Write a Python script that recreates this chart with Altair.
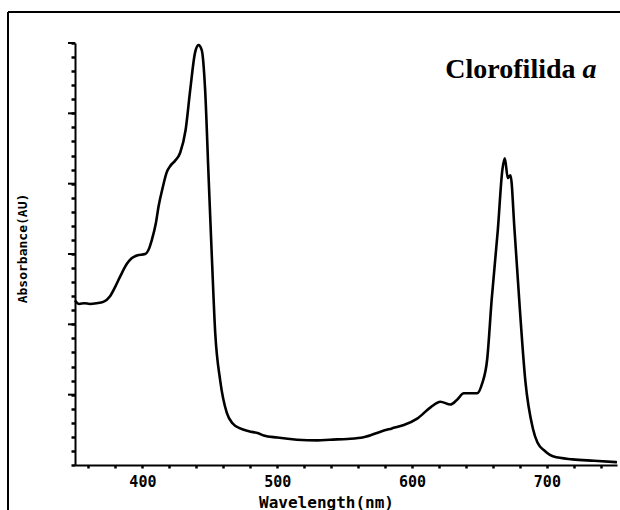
import altair as alt
import pandas as pd

# Spectrum (wavelength nm, absorbance in axis-tick units)
wavelength = [350, 353, 357, 361, 366, 371, 376, 380, 384, 388.5, 392, 396, 402, 405, 407,
              410, 412, 415, 418, 421, 424, 428, 432, 435.5, 439, 441.6, 444, 446.5, 449,
              451.5, 454, 457.7, 462.6, 467, 472.5, 479, 486, 490, 500, 514.6, 530, 539,
              552, 564, 576.6, 585, 593.9, 603.8, 613.7, 621, 628.5, 633, 638.4, 648.3,
              652, 655.7, 659, 663.6, 667, 668.8, 671, 673, 676, 680, 684, 689.6, 693,
              698.5, 705, 719, 735, 752]
absorbance = [11.7, 11.45, 11.5, 11.45, 11.5, 11.6, 12.0, 12.7, 13.5, 14.3, 14.7, 14.9, 15.0,
              15.4, 16.0, 17.2, 18.4, 19.7, 20.8, 21.3, 21.6, 22.2, 23.8, 26.7, 29.3, 29.85,
              29.5, 26.7, 20.7, 14.8, 9.4, 6.0, 3.7, 2.95, 2.6, 2.4, 2.25, 2.1, 1.95, 1.8,
              1.75, 1.8, 1.85, 1.97, 2.37, 2.6, 2.84, 3.3, 4.1, 4.5, 4.3, 4.6, 5.1, 5.1, 5.8,
              7.5, 11.7, 16.7, 21.0, 21.8, 20.4, 20.6, 16.7, 11.0, 6.0, 2.6, 1.6, 1.0, 0.6,
              0.4, 0.3, 0.2]

x_ticks = list(range(360, 741, 20))
y_ticks = list(range(0, 31))
y_major = list(range(5, 31, 5))

title_word = "Clorofilida"
title_italic = "a"

df = pd.DataFrame({"wl": wavelength, "abs": absorbance})
major_df = pd.DataFrame({"abs": y_major})

W, H = 542, 422
PAD_L, PAD_T = 75, 43

mono = "DejaVu Sans Mono"

x_enc = alt.X(
    "wl:Q",
    scale=alt.Scale(domain=[350, 752], nice=False, zero=False),
    axis=alt.Axis(
        values=x_ticks,
        tickCount=len(x_ticks),
        labelExpr="datum.value % 100 == 0 ? datum.label : ''",
        labelOverlap=False,
        grid=False,
        tickSize=3,
        tickWidth=2.5,
        tickColor="black",
        domainColor="black",
        domainWidth=2,
        labelFont=mono,
        labelFontWeight="bold",
        labelFontSize=15,
        labelColor="black",
        labelPadding=6,
        title="Wavelength(nm)",
        titleFont=mono,
        titleFontWeight="bold",
        titleFontSize=16,
        titleColor="black",
        titleX=251,
        titleY=37,
        titleBaseline="middle",
        titleAlign="center",
    ),
)

y_enc = alt.Y(
    "abs:Q",
    scale=alt.Scale(domain=[0, 30], nice=False),
    axis=alt.Axis(
        values=y_ticks,
        tickCount=len(y_ticks),
        labels=False,
        grid=False,
        tickSize=4,
        tickWidth=2.5,
        tickColor="black",
        domainColor="black",
        domainWidth=2,
        title="Absorbance(AU)",
        titleFont=mono,
        titleFontWeight="bold",
        titleFontSize=13,
        titleColor="black",
        titleX=-53,
        titleY=205,
        titleBaseline="middle",
        titleAlign="center",
    ),
)

line = alt.Chart(df).mark_line(
    color="black", strokeWidth=2.6, interpolate="monotone"
).encode(x=x_enc, y=y_enc)

majors = alt.Chart(major_df).mark_rule(color="black", strokeWidth=2).encode(
    y=alt.Y("abs:Q"), x=alt.value(-7), x2=alt.value(0)
)

lab_df = pd.DataFrame({"t": [title_word], "wl": [624.7], "abs": [27.5]})
lab2_df = pd.DataFrame({"t": [title_italic], "wl": [726.5], "abs": [27.5]})

text1 = alt.Chart(lab_df).mark_text(
    font="Liberation Serif", fontWeight="bold", fontSize=28, align="left",
    baseline="alphabetic", color="black"
).encode(x="wl:Q", y="abs:Q", text="t:N")

text2 = alt.Chart(lab2_df).mark_text(
    font="Liberation Serif", fontWeight="bold", fontStyle="italic", fontSize=28,
    align="left", baseline="alphabetic", color="black"
).encode(x="wl:Q", y="abs:Q", text="t:N")

frame_left = alt.Chart(df).mark_rule(color="black", strokeWidth=1.5).encode(
    x=alt.value(8 - PAD_L), y=alt.value(12 - PAD_T), y2=alt.value(520 - PAD_T)
)
frame_top = alt.Chart(df).mark_rule(color="black", strokeWidth=2).encode(
    x=alt.value(8 - PAD_L), x2=alt.value(630 - PAD_L), y=alt.value(12 - PAD_T)
)

chart = alt.layer(line, majors, text1, text2, frame_left, frame_top).properties(
    width=W,
    height=H,
    autosize=alt.AutoSizeParams(type="none"),
    padding={"left": PAD_L, "top": PAD_T, "right": 620 - PAD_L - W, "bottom": 510 - PAD_T - H},
    background="white",
).configure_view(strokeWidth=0)

chart.save("out.html", embed_options={"renderer": "svg", "actions": False})
